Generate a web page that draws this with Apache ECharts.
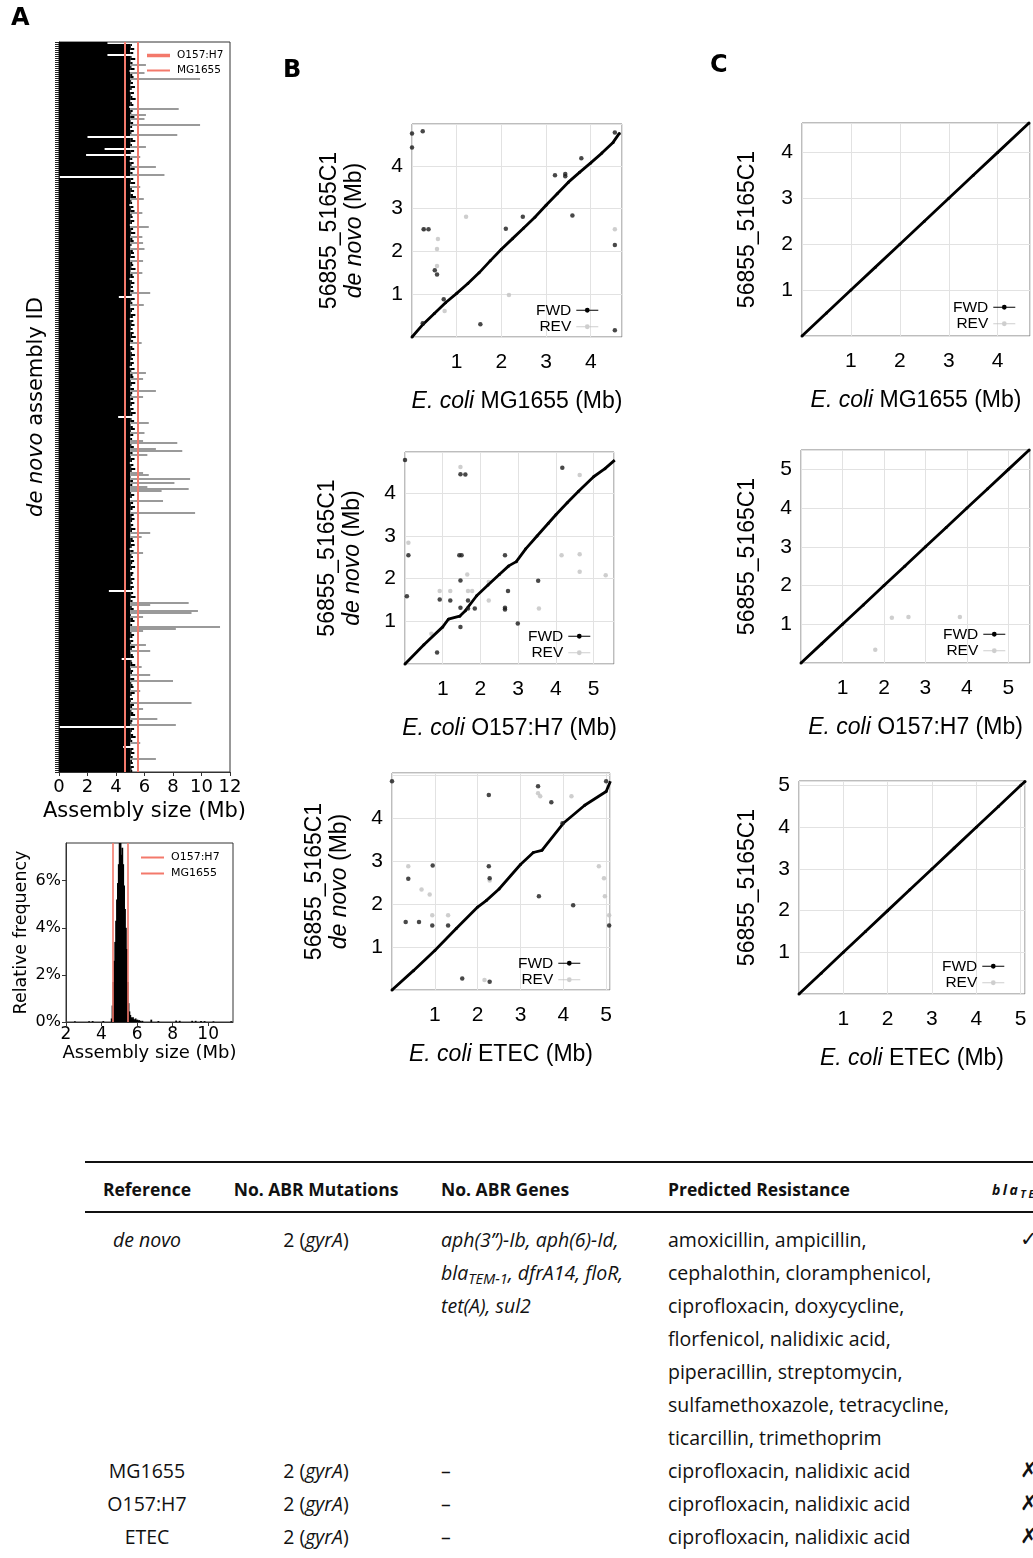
<!DOCTYPE html>
<html><head><meta charset="utf-8">
<script src="https://cdn.jsdelivr.net/npm/echarts@6/dist/echarts.min.js"></script>
<style>
html,body{margin:0;padding:0;background:#fff;width:1033px;height:1558px;overflow:hidden;}
#chart{position:absolute;left:0;top:0;width:1033px;height:1120px;}
.t{position:absolute;font-family:'Open Sans',sans-serif;font-size:19.5px;line-height:33px;color:#111;white-space:nowrap;}
.h{font-weight:bold;font-size:17.5px;}
.c{text-align:center;width:200px;}
.rule{position:absolute;left:85px;width:948px;background:#111;}
sub{font-size:0.75em;vertical-align:-0.3em;line-height:0;}
</style></head><body>
<div id="chart"></div>
<div id="table"></div>
<script>
// ---------------- DATA ----------------
// Panel A (top): assembly sizes (Mb) of de novo assemblies
const assemblySizes = [
3.4,5.12,5.05,5.28,4.98,5.21,3.4,5.09,5.35,5.02,5.16,6.1,5.08,5.3,4.95,6.0,5.14,5.23,9.9,5.06,
5.19,5.01,5.33,5.1,4.97,5.26,5.04,5.15,5.38,5.0,5.11,5.22,4.93,8.4,5.17,5.07,6.1,5.29,6.0,5.03,
5.2,9.9,5.13,4.99,5.25,5.08,8.3,2.0,5.18,5.36,5.02,5.12,6.1,3.2,5.27,5.06,1.9,5.7,5.14,4.96,
5.24,5.09,6.8,5.31,5.0,5.16,7.4,0.0,5.21,5.05,5.34,4.98,5.7,5.11,5.27,5.03,5.19,5.4,5.95,5.08,
5.13,4.94,5.22,5.06,5.3,5.85,5.1,5.17,5.01,5.28,5.12,4.97,6.3,5.2,5.07,5.35,5.04,5.85,5.15,5.24,
5.9,5.09,5.0,6.0,5.18,5.26,5.05,5.32,4.99,5.9,5.14,5.21,5.08,5.37,5.02,5.85,5.16,5.25,4.95,5.11,
5.29,5.06,5.19,5.03,5.23,6.4,5.1,4.2,5.31,5.07,5.15,5.95,5.0,5.27,5.12,5.04,5.36,5.18,4.97,5.22,
5.09,5.3,5.05,5.17,5.01,5.24,5.13,5.39,5.06,5.2,5.8,4.98,5.15,5.28,5.03,5.11,5.33,5.08,5.19,5.0,
5.25,5.12,4.96,5.3,5.07,6.1,5.16,5.22,5.9,5.04,5.35,5.1,5.01,5.26,6.8,5.14,5.08,5.9,5.2,5.02,
5.29,5.11,4.99,5.23,5.06,5.38,5.15,4.15,5.09,5.27,6.3,5.03,5.18,5.32,5.05,6.0,5.21,5.0,5.13,5.9,
8.3,5.08,5.25,6.8,8.65,5.16,6.2,5.04,5.3,5.12,4.97,5.22,5.07,5.35,5.1,5.9,6.3,5.02,9.2,5.19,
8.1,5.14,6.2,9.1,7.2,5.06,5.28,5.11,4.98,7.3,5.2,5.05,5.33,5.16,5.01,9.55,5.24,5.09,5.3,5.13,
5.03,5.21,5.07,5.36,5.12,6.4,5.0,5.8,5.17,5.26,5.05,5.31,5.1,4.96,5.23,5.9,5.08,5.19,5.02,5.27,
5.14,5.06,5.34,5.11,4.99,5.22,5.15,5.04,5.29,5.09,5.18,5.01,5.25,5.12,3.5,5.2,5.07,5.37,5.03,5.16,
9.1,6.4,5.1,5.24,9.75,9.3,5.05,5.9,5.19,5.3,5.0,5.13,11.3,8.2,5.9,5.08,5.27,5.15,4.97,5.21,
5.06,6.1,5.32,5.11,6.4,5.02,5.18,5.25,4.4,5.09,5.14,5.35,5.8,5.04,5.2,5.12,6.4,5.0,5.28,8.0,
5.07,5.16,5.23,5.03,5.7,5.31,5.1,4.98,5.19,5.05,9.3,5.26,5.13,5.9,5.08,5.21,5.34,5.02,6.9,5.15,
5.09,8.2,0.0,5.27,5.11,5.04,5.2,5.38,5.06,5.14,5.7,5.0,4.5,5.22,5.1,5.29,5.05,5.17,6.8,5.12,
5.18,5.03,5.25,5.09,5.14
];
const assemblyIds = assemblySizes.map((_, i) => 'asm' + (i + 1));

// Reference genome sizes (Mb)
const refO157 = 5.5;
const refMG1655 = 4.64;

// Panel A (bottom): histogram of assembly sizes (bin centre Mb, relative frequency %)
const histBins = [2.5,3.3,3.5,4.1,4.57,4.62,4.67,4.72,4.77,4.82,4.87,4.92,4.97,5.02,5.07,5.12,5.17,5.22,5.27,5.32,5.37,5.42,5.47,5.52,5.57,5.62,5.67,5.72,5.77,5.82,5.87,5.92,5.97,6.02,6.07,6.12,6.2,6.3,6.8,7.2,8.2,8.4,9.1,9.3,9.6,9.8,10.3,11.3];
const histFreq = [0.03,0.03,0.04,0.04,0.15,0.7,1.7,2.6,3.4,4.3,5.2,5.9,6.7,7.9,7.9,7.1,7.4,6.7,5.8,4.8,4.0,3.1,1.7,0.8,0.45,0.3,0.2,0.15,0.2,0.12,0.1,0.15,0.08,0.1,0.06,0.08,0.05,0.05,0.1,0.04,0.06,0.05,0.05,0.05,0.04,0.04,0.03,0.03];

// Panel B: de novo assembly vs references (Mb)
const b1Diag = [[0,0],[0.25,0.3],[0.5,0.55],[0.75,0.8],[1.0,1.02],[1.25,1.25],[1.5,1.5],[1.75,1.78],[2.0,2.05],[2.25,2.3],[2.5,2.55],[2.75,2.8],[3.0,3.08],[3.25,3.35],[3.5,3.62],[3.75,3.85],[4.0,4.07],[4.25,4.3],[4.5,4.55],[4.64,4.76]];
const b1Fwd = [[0.0,4.76],[0.0,4.43],[0.24,4.81],[0.26,2.52],[0.37,2.52],[0.51,1.56],[0.56,1.46],[0.71,0.88],[0.24,0.32],[1.53,0.30],[2.10,2.53],[2.48,2.81],[3.20,3.78],[3.43,3.76],[3.43,3.81],[3.59,2.84],[3.79,4.18],[4.54,4.78],[4.54,2.15],[4.54,0.16]];
const b1Rev = [[1.21,2.81],[0.58,2.29],[0.56,2.06],[0.56,1.66],[0.73,0.61],[2.17,0.98],[4.54,2.52],[0.28,2.52]];

const b2Diag = [[0,0],[0.5,0.45],[1.0,0.87],[1.15,1.05],[1.45,1.12],[1.6,1.25],[1.9,1.6],[2.2,1.85],[2.5,2.1],[2.75,2.3],[2.95,2.4],[3.2,2.7],[3.5,3.0],[3.8,3.3],[4.0,3.5],[4.3,3.78],[4.6,4.05],[5.0,4.39],[5.3,4.58],[5.56,4.78]];
const b2Fwd = [[0.0,4.78],[0.09,2.55],[0.05,1.59],[0.92,1.51],[1.2,1.49],[1.44,2.55],[1.5,2.55],[1.47,1.96],[1.47,1.32],[1.47,0.87],[1.6,4.44],[1.47,4.45],[1.67,1.49],[1.67,1.30],[1.85,1.30],[0.85,0.27],[2.65,2.55],[2.65,1.32],[2.65,1.28],[2.73,1.71],[2.99,0.95],[3.53,1.95],[4.17,4.6]];
const b2Rev = [[1.47,4.62],[0.09,2.84],[0.92,1.71],[1.2,1.71],[1.67,1.71],[1.78,1.71],[2.22,1.92],[2.22,1.49],[0.7,0.71],[3.55,1.30],[4.15,2.55],[4.63,4.43],[4.63,2.57],[4.63,2.16],[5.32,2.08],[1.65,2.1]];

const b3Diag = [[0,0],[0.5,0.45],[1.0,0.92],[1.5,1.43],[2.0,1.93],[2.2,2.08],[2.5,2.35],[3.0,2.92],[3.3,3.2],[3.5,3.25],[4.0,3.88],[4.5,4.3],[5.0,4.62],[5.1,4.86]];
const b3Fwd = [[0,4.86],[0.32,1.58],[0.63,1.58],[0.38,2.59],[0.94,1.5],[0.95,2.9],[1.31,1.5],[1.64,0.27],[2.26,4.54],[2.26,2.88],[2.28,2.6],[2.28,0.19],[3.41,4.74],[3.43,2.18],[3.72,4.37],[3.98,3.88],[4.23,1.97],[5.07,1.5],[5.0,4.86]];
const b3Rev = [[0.38,2.88],[0.69,2.34],[0.88,2.22],[0.94,1.74],[1.31,1.74],[2.16,0.23],[3.41,4.58],[3.46,4.51],[4.19,4.51],[4.83,2.88],[4.95,2.6],[4.97,2.18],[5.07,1.74],[2.28,2.55]];

// Panel C: reference-guided assembly vs references (Mb)
const c1Diag = [[0,0],[0.5,0.5],[1,1],[1.5,1.5],[2,2],[2.5,2.5],[3,3],[3.5,3.5],[4,4],[4.64,4.64]];
const c1Fwd = [];
const c1Rev = [];
const c2Diag = [[0,0],[0.5,0.5],[1,1],[1.5,1.5],[2,2],[2.5,2.5],[3,3],[3.5,3.5],[4,4],[4.5,4.5],[5,5],[5.5,5.5]];
const c2Fwd = [];
const c2Rev = [[1.79,0.34],[2.19,1.17],[2.59,1.19],[3.83,1.19]];
const c3Diag = [[0,0],[0.5,0.5],[1,1],[1.5,1.5],[2,2],[2.5,2.5],[3,3],[3.5,3.5],[4,4],[4.5,4.5],[5,5],[5.1,5.1]];
const c3Fwd = [];
const c3Rev = [];

// Table
const tblHeaders = ['Reference','No. ABR Mutations','No. ABR Genes','Predicted Resistance'];
const tblRefs = ['<i>de novo</i>','MG1655','O157:H7','ETEC'];
const tblMut = ['2 (<i>gyrA</i>)','2 (<i>gyrA</i>)','2 (<i>gyrA</i>)','2 (<i>gyrA</i>)'];
const tblGenes = [["<i>aph(3”)-Ib, aph(6)-Id,</i>","<i>bla<sub>TEM-1</sub>, dfrA14, floR,</i>","<i>tet(A), sul2</i>"],['–'],['–'],['–']];
const tblRes = [['amoxicillin, ampicillin,','cephalothin, cloramphenicol,','ciprofloxacin, doxycycline,','florfenicol, nalidixic acid,','piperacillin, streptomycin,','sulfamethoxazole, tetracycline,','ticarcillin, trimethoprim'],['ciprofloxacin, nalidixic acid'],['ciprofloxacin, nalidixic acid'],['ciprofloxacin, nalidixic acid']];
const tblBla = ['✓','✗','✗','✗'];

// ---------------- CHART ----------------
const RED = '#f3796b';
const SANS = 'Liberation Sans';
const DV = 'DejaVu Sans';
const CORE = 5.0; // split point for drawing: solid part vs thin outlier tail
const chart = echarts.init(document.getElementById('chart'), null, {renderer:'canvas'});

const grids = [], xAxes = [], yAxes = [], series = [], legends = [];

// Panel A top
grids.push({left:59, top:42, width:171, height:730, show:true, borderColor:'#333', borderWidth:1, containLabel:false});
xAxes.push({gridIndex:0, type:'value', min:0, max:12, interval:2,
  axisLine:{show:true, lineStyle:{color:'#333'}}, axisTick:{show:true, length:4, lineStyle:{color:'#333'}},
  axisLabel:{fontSize:18, color:'#000', fontFamily:DV, margin:6}, splitLine:{show:false},
  name:'Assembly size (Mb)', nameLocation:'middle', nameGap:27, nameTextStyle:{fontSize:21, fontFamily:DV, color:'#000'}});
yAxes.push({gridIndex:0, type:'category', inverse:true, data:assemblyIds,
  axisLine:{show:true, lineStyle:{color:'#333'}}, axisTick:{show:true, interval:0, length:4, lineStyle:{color:'#222'}},
  axisLabel:{show:false}, splitLine:{show:false},
  name:'{i|de novo} assembly ID', nameLocation:'middle', nameRotate:90, nameGap:12,
  nameTextStyle:{fontSize:21, fontFamily:DV, color:'#000', rich:{i:{fontSize:21, fontFamily:DV, fontStyle:'italic', color:'#000'}}}});
series.push({type:'bar', xAxisIndex:0, yAxisIndex:0, stack:'asm', data:assemblySizes.map(v => Math.min(v, CORE)), barCategoryGap:'0%', silent:true,
  itemStyle:{color:'#000'},
  markLine:{silent:true, symbol:['none','none'], label:{show:false}, animation:false, z:10,
    data:[{xAxis:refMG1655, lineStyle:{color:RED, width:2, type:'solid'}}, {xAxis:refO157, lineStyle:{color:RED, width:2, type:'solid'}}]}
});
series.push({type:'bar', xAxisIndex:0, yAxisIndex:0, stack:'asm', data:assemblySizes.map(v => Math.max(v - CORE, 0)), barCategoryGap:'0%', silent:true,
  itemStyle:{color:p => assemblySizes[p.dataIndex] > 5.6 ? '#9a9a9a' : '#000'}
});

// Panel A bottom: histogram
grids.push({left:66, top:843, width:167, height:179, show:true, borderColor:'#333', borderWidth:1});
xAxes.push({gridIndex:1, type:'value', min:2, max:11.4, interval:2,
  axisLine:{show:true, lineStyle:{color:'#333'}}, axisTick:{show:true, length:4, lineStyle:{color:'#333'}},
  axisLabel:{fontSize:17, color:'#000', fontFamily:DV, margin:4, showMaxLabel:false}, splitLine:{show:false},
  name:'Assembly size (Mb)', nameLocation:'middle', nameGap:17, nameTextStyle:{fontSize:18, fontFamily:DV, color:'#000'}});
yAxes.push({gridIndex:1, type:'value', min:0, max:7.6, interval:2,
  axisLine:{show:true, lineStyle:{color:'#333'}}, axisTick:{show:true, length:4, lineStyle:{color:'#333'}},
  axisLabel:{fontSize:16, color:'#000', fontFamily:DV, margin:5, formatter:'{value}%', showMaxLabel:false}, splitLine:{show:false},
  name:'Relative frequency', nameLocation:'middle', nameGap:36, nameTextStyle:{fontSize:17.5, fontFamily:DV, color:'#000'}});
series.push({type:'bar', xAxisIndex:1, yAxisIndex:1, data:histBins.map((b,i)=>[b, histFreq[i]]), barWidth:1.8, silent:true,
  itemStyle:{color:'#000'},
  markLine:{silent:true, symbol:['none','none'], label:{show:false}, animation:false,
    data:[{xAxis:refMG1655, lineStyle:{color:RED, width:1.6, type:'solid'}}, {xAxis:refO157, lineStyle:{color:RED, width:1.6, type:'solid'}}]}
});
// legend-only series
series.push({type:'line', name:'O157:H7', xAxisIndex:1, yAxisIndex:1, data:[], itemStyle:{color:RED}, lineStyle:{color:RED}});
series.push({type:'line', name:'MG1655', xAxisIndex:1, yAxisIndex:1, data:[], itemStyle:{color:RED}, lineStyle:{color:RED}});

const legA = (name, left, top, h, fs) => ({data:[{name:name, icon:'rect'}], orient:'vertical', left:left, top:top, padding:0,
  itemWidth:23, itemHeight:h, itemGap:0, selectedMode:false,
  textStyle:{fontSize:fs, lineHeight:13, fontFamily:DV, color:'#000', padding:[0,0,0,2]}});
legends.push(legA('O157:H7', 147, 49, 3.5, 10.5));
legends.push(legA('MG1655', 147, 64, 2, 10.5));
legends.push(legA('O157:H7', 141, 851, 2, 11));
legends.push(legA('MG1655', 141, 867, 2, 11));

// Dot plots
const DOT_ICON = 'path://M0,4.5H22V5.5H0Z M11,2.6A2.4,2.4,0,1,1,10.99,2.6Z';
const dots = [
  {g:{left:412,top:124,width:210,height:213}, xMax:4.70, yMax:4.98, yLab:4.5, diag:b1Diag, fwd:b1Fwd, rev:b1Rev, xName:'{i|E. coli} MG1655 (Mb)', yName:'56855_5165C1\n{i|de novo} (Mb)', yGap:45, leg:[536,302]},
  {g:{left:405,top:452,width:209,height:212}, xMax:5.54, yMax:4.97, yLab:4.5, diag:b2Diag, fwd:b2Fwd, rev:b2Rev, xName:'{i|E. coli} O157:H7 (Mb)', yName:'56855_5165C1\n{i|de novo} (Mb)', yGap:40, leg:[528,628]},
  {g:{left:392,top:773,width:218,height:217}, xMax:5.09, yMax:5.05, yLab:4.5, diag:b3Diag, fwd:b3Fwd, rev:b3Rev, xName:'{i|E. coli} ETEC (Mb)', yName:'56855_5165C1\n{i|de novo} (Mb)', yGap:40, leg:[518,955]},
  {g:{left:802,top:123,width:229,height:213}, xMax:4.66, yMax:4.64, yLab:9, diag:c1Diag, fwd:c1Fwd, rev:c1Rev, xName:'{i|E. coli} MG1655 (Mb)', yName:'56855_5165C1', yGap:42, leg:[953,299]},
  {g:{left:801,top:450,width:229,height:213}, xMax:5.52, yMax:5.5, yLab:9, diag:c2Diag, fwd:c2Fwd, rev:c2Rev, xName:'{i|E. coli} O157:H7 (Mb)', yName:'56855_5165C1', yGap:41, leg:[943,626]},
  {g:{left:799,top:781,width:226,height:213}, xMax:5.1, yMax:5.11, yLab:9, diag:c3Diag, fwd:c3Fwd, rev:c3Rev, xName:'{i|E. coli} ETEC (Mb)', yName:'56855_5165C1', yGap:39, leg:[942,958]}
];
dots.forEach((d, k) => {
  const gi = grids.length;
  grids.push(Object.assign({show:true, borderColor:'#7a7a7a', borderWidth:1}, d.g));
  const labBase = {fontSize:21, color:'#000', fontFamily:SANS};
  xAxes.push({gridIndex:gi, type:'value', min:0, max:d.xMax, interval:1,
    axisLine:{show:false}, axisTick:{show:false},
    axisLabel:Object.assign({margin:15, formatter:v => (v === 0 || v % 1 !== 0) ? '' : String(v)}, labBase),
    splitLine:{show:true, lineStyle:{color:'#e2e2e2', width:1}},
    name:d.xName, nameLocation:'middle', nameGap:53,
    nameTextStyle:{fontSize:23, fontFamily:SANS, color:'#000', rich:{i:{fontSize:23, fontFamily:SANS, fontStyle:'italic', color:'#000'}}}});
  yAxes.push({gridIndex:gi, type:'value', min:0, max:d.yMax, interval:1,
    axisLine:{show:false}, axisTick:{show:false},
    axisLabel:Object.assign({margin:9, formatter:v => (v === 0 || v % 1 !== 0 || v > d.yLab) ? '' : String(v)}, labBase),
    splitLine:{show:true, lineStyle:{color:'#e2e2e2', width:1}},
    name:d.yName, nameLocation:'middle', nameRotate:90, nameGap:d.yGap,
    nameTextStyle:{fontSize:23, lineHeight:25, fontFamily:SANS, color:'#000', rich:{i:{fontSize:23, lineHeight:25, fontFamily:SANS, fontStyle:'italic', color:'#000'}}}});
  series.push({type:'line', name:'FWD', xAxisIndex:gi, yAxisIndex:gi, data:d.diag, symbol:'circle', symbolSize:3, showSymbol:true,
    lineStyle:{color:'#000', width:2.8}, itemStyle:{color:'#000'}, silent:true, z:3});
  series.push({type:'scatter', name:'FWD', xAxisIndex:gi, yAxisIndex:gi, data:d.fwd, symbolSize:4.5, itemStyle:{color:'#1a1a1a'}, silent:true, z:4});
  series.push({type:'scatter', name:'REV', xAxisIndex:gi, yAxisIndex:gi, data:d.rev, symbolSize:4.5, itemStyle:{color:'#c2c2c2'}, silent:true, z:2});
  legends.push({data:[{name:'FWD', icon:DOT_ICON},{name:'REV', icon:DOT_ICON}], orient:'vertical', align:'right', padding:0,
    left:d.leg[0], top:d.leg[1], itemWidth:22, itemHeight:6, itemGap:0, selectedMode:false,
    textStyle:{fontSize:15.5, lineHeight:16.5, fontFamily:SANS, color:'#000'}});
});

const option = {
  animation:false,
  textStyle:{fontFamily:SANS},
  grid:grids, xAxis:xAxes, yAxis:yAxes, series:series, legend:legends,
  graphic:[
    {type:'text', left:11, top:7, style:{text:'A', font:'bold 24px "DejaVu Sans"', fill:'#000'}},
    {type:'text', left:283, top:59, style:{text:'B', font:'bold 24px "DejaVu Sans"', fill:'#000'}},
    {type:'text', left:710, top:54, style:{text:'C', font:'bold 24px "DejaVu Sans"', fill:'#000'}}
  ]
};
chart.setOption(option);

// ---------------- TABLE ----------------
(function(){
  const el = document.getElementById('table');
  let h = '';
  h += '<div class="rule" style="top:1161px;height:2px"></div>';
  h += '<div class="rule" style="top:1211px;height:1.5px"></div>';
  const hTop = 1189 - 16.5;
  h += `<div class="t h c" style="left:47px;top:${hTop}px">${tblHeaders[0]}</div>`;
  h += `<div class="t h c" style="left:216px;top:${hTop}px">${tblHeaders[1]}</div>`;
  h += `<div class="t h" style="left:441px;top:${hTop}px">${tblHeaders[2]}</div>`;
  h += `<div class="t h" style="left:668px;top:${hTop}px">${tblHeaders[3]}</div>`;
  h += `<div class="t h" style="left:992px;top:${hTop}px;font-size:14px;letter-spacing:2.5px"><i>bla</i><sub><i>TEM-1</i></sub></div>`;
  const rowCentres = [1239, 1470, 1503, 1536];
  tblRefs.forEach((r, i) => {
    const top = rowCentres[i] - 16.5;
    h += `<div class="t c" style="left:47px;top:${top}px">${r}</div>`;
    h += `<div class="t c" style="left:216px;top:${top}px">${tblMut[i]}</div>`;
    tblGenes[i].forEach((g, j) => { h += `<div class="t" style="left:441px;top:${top + 33*j}px">${g}</div>`; });
    tblRes[i].forEach((g, j) => { h += `<div class="t" style="left:668px;top:${top + 33*j}px">${g}</div>`; });
    h += `<div class="t" style="left:1020px;top:${top}px;font-family:'DejaVu Sans';font-weight:bold;font-size:21px">${tblBla[i]}</div>`;
  });
  el.innerHTML = h;
})();
</script></body></html>
